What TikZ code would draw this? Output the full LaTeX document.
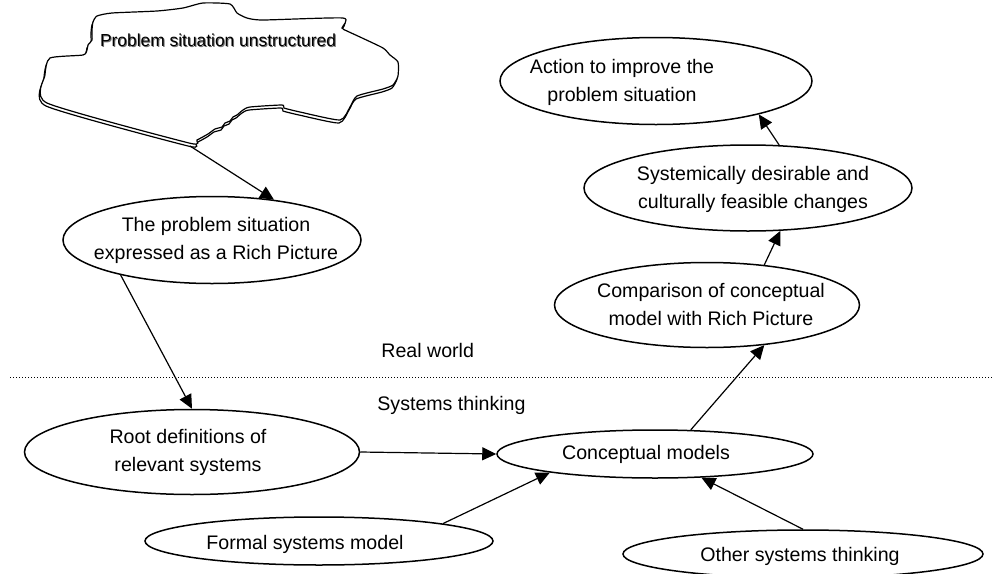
\documentclass[tikz,border=0pt]{standalone}
\usepackage{fontspec}
\setmainfont{Liberation Sans}
\usetikzlibrary{arrows.meta,shapes.geometric}

\begin{document}
\begin{tikzpicture}[x=0.5pt, y=-0.5pt, >={Triangle[length=7pt,width=6.5pt]},
  font=\fontsize{9.8}{14}\selectfont,
  oval/.style={draw, ellipse, line width=0.75pt, inner sep=0pt},
  txt/.style={align=center, inner sep=0pt},
  flow/.style={->, line width=0.6pt}]
  \useasboundingbox (0,0) rectangle (993,574);

  % the unstructured situation, with a drop edge below it
  \foreach \dx/\dy in {-1/3, 0/0}
    \draw[line width=0.6pt, fill=white, shift={(\dx,\dy)}]
      plot[smooth cycle, tension=0.35] coordinates {
        (93,22) (97,16) (112,13) (157,11) (183,8) (203,3) (230,4) (237,13)
        (247,18) (263,20) (343,18) (342,28) (347,31) (360,37) (383,48) (390,55)
        (398,62) (398,76) (393,85) (383,89) (357,96) (350,107) (340,120)
        (300,112) (284,108) (282,105) (250,107) (243,110) (237,115) (233,117)
        (230,121) (225,123) (222,127) (215,129) (208,134) (197,140) (189,143)
        (47,103) (45,75) (50,58) (83,55) (87,50) (88,45) (92,40) (92,30)};
  \node[font=\fontsize{8.7}{10}\selectfont, text=black!55] (cloudshade) at (219,41) {Problem situation unstructured};
  \node[font=\fontsize{8.7}{10}\selectfont] (cloud) at (218,40) {Problem situation unstructured};
  \coordinate (cloudtip) at (190,146);

  % real world side
  \node[oval, minimum width=149pt, minimum height=43.5pt] (rich) at (212,240) {};
  \node[txt] (richtext) at (216,240) {The problem situation\\expressed as a Rich Picture};
  \node[oval, minimum width=152.5pt, minimum height=42.5pt] (compare) at (707,305) {};
  \node[txt] (comparetext) at (711,304) {Comparison of conceptual\\model with Rich Picture};
  \node[oval, minimum width=164pt, minimum height=43pt] (changes) at (748,188) {};
  \node[txt] (changestext) at (753,189) {Systemically desirable and\\culturally feasible changes};
  \node[oval, minimum width=156pt, minimum height=43.5pt] (action) at (656,81) {};
  \node[txt] (actiontext) at (622,82) {Action to improve the\\problem situation};

  % systems thinking side
  \node[oval, minimum width=167.5pt, minimum height=42.5pt] (root) at (192,452) {};
  \node[txt] (roottext) at (188,452) {Root definitions of\\relevant systems};
  \node[oval, minimum width=158pt, minimum height=24pt] (concept) at (655,454) {};
  \node[txt] (concepttext) at (646,454) {Conceptual models};
  \node[oval, minimum width=174pt, minimum height=24pt] (formal) at (319,541) {};
  \node[txt] (formaltext) at (305,544) {Formal systems model};
  \node[oval, minimum width=180pt, minimum height=24pt] (other) at (803,554) {};
  \node[txt] (othertext) at (800,556) {Other systems thinking};

  % the line between the two worlds
  \coordinate (lineL) at (10,377);
  \coordinate (lineR) at (993,377);
  \draw[line width=0.5pt, dash pattern=on 0.5pt off 1pt] (lineL) -- (lineR);
  \node[txt, anchor=west] (real) at (381,350) {Real world};
  \node[txt, anchor=west] (thinking) at (377,405) {Systems thinking};

  \draw[flow] (cloudtip) -- (rich.33);
  \draw[flow] (rich.201) -- (root.north);
  \draw[flow] (root.east) -- (concept.west);
  \draw[flow] (formal.8.5) -- (concept.190);
  \draw[flow] (other.north) -- (concept.-27);
  \draw[flow] (concept.34) -- (compare.-35);
  \draw[flow] (compare.35) -- (changes.-53);
  \draw[flow] (changes.54) -- (action.-18);
\end{tikzpicture}
\end{document}
